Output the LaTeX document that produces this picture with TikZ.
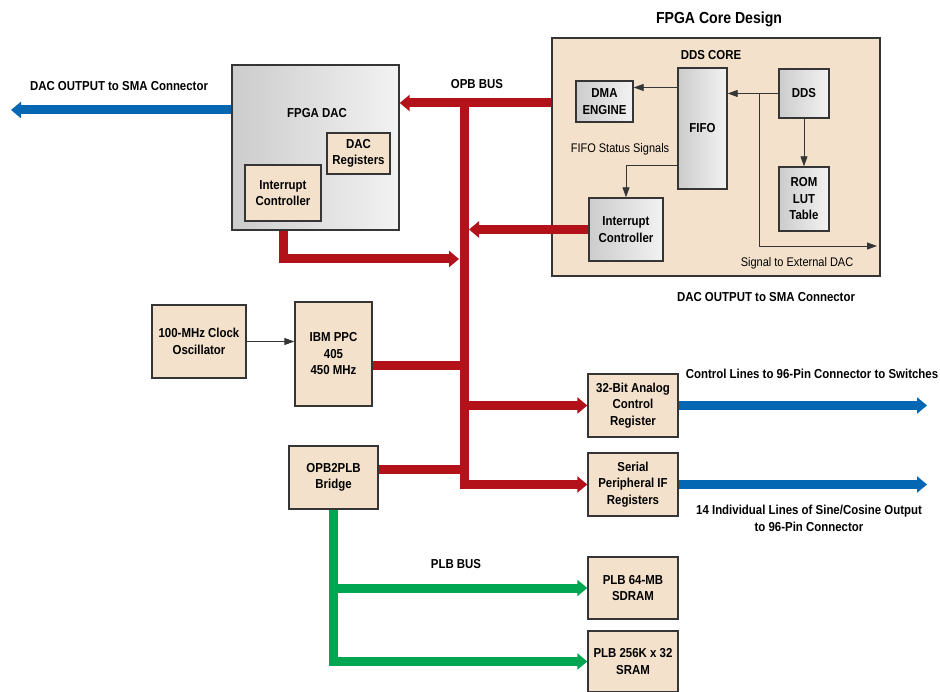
\documentclass[tikz,border=0pt]{standalone}
\usepackage{fontspec}
\setmainfont{Liberation Sans}[FakeStretch=0.88]
\usetikzlibrary{positioning,arrows.meta}
\definecolor{corefill}{HTML}{F3E1CB}
\definecolor{edge}{HTML}{353535}
\definecolor{busred}{HTML}{B3121B}
\definecolor{sigblue}{HTML}{0467B3}
\definecolor{plbgreen}{HTML}{00A651}

\begin{document}
\begin{tikzpicture}[x=1pt,y=-1pt,
 font=\fontsize{13}{16.5}\selectfont\bfseries,
 blk/.style={draw=edge,line width=1.4pt,fill=corefill,align=center,inner sep=0pt},
 chip/.style={draw=edge,line width=1.4pt,left color=black!20,right color=black!5,align=center,inner sep=0pt},
 note/.style={font=\fontsize{12.5}{15}\selectfont},
 bus/.style={line width=9pt,draw=busred},
 busarr/.style={bus,-{Triangle[width=16pt,length=10pt]}},
 sig/.style={line width=9pt,draw=sigblue,-{Triangle[width=16pt,length=10pt]}},
 plb/.style={line width=9pt,draw=plbgreen,-{Triangle[width=16pt,length=10pt]}},
 arr/.style={-{Triangle[length=10pt,width=7pt]},line width=0.9pt,draw=edge}]
\useasboundingbox (0,0) rectangle (940,692);
% FPGA core
\node[blk,minimum width=328pt,minimum height=238pt] (core) at (716,157) {};
\node[font=\fontsize{16}{19}\selectfont\bfseries] (coretitle) at (719,19) {FPGA Core Design};
\node (ddslbl) at (711,55) {DDS CORE};
\node[chip,minimum width=57pt,minimum height=41pt] (dma) at (604.5,101.5) {DMA\\ENGINE};
\node[chip,minimum width=49pt,minimum height=121pt] (fifo) at (702.5,128.5) {FIFO};
\node[chip,minimum width=50pt,minimum height=49pt] (dds) at (804,93.5) {DDS};
\node[chip,minimum width=50pt,minimum height=64pt] (rom) at (804,199) {ROM\\LUT\\Table};
\node[chip,minimum width=74pt,minimum height=63pt] (coreint) at (626,229.5) {Interrupt\\Controller};
\node[note] (fifonote) at (620,149) {FIFO Status Signals};
\node[note] (extnote) at (797,263) {Signal to External DAC};
\node (coreout) at (766,297) {DAC OUTPUT to SMA Connector};
% FPGA DAC
\node[chip,minimum width=167pt,minimum height=165pt] (fpgadac) at (315.5,147.5) {};
\node (dactxt) at (317,113) {FPGA DAC};
\node[blk,minimum width=63pt,minimum height=41pt] (dacreg) at (358.5,153.5) {DAC\\Registers};
\node[blk,minimum width=76pt,minimum height=56pt] (dacint) at (283,193) {Interrupt\\Controller};
\node (dacoutlbl) at (119,86) {DAC OUTPUT to SMA Connector};
% processor side
\node[blk,minimum width=94pt,minimum height=73pt] (clock) at (199,341.5) {100-MHz Clock\\Oscillator};
\node[blk,minimum width=77pt,minimum height=104pt] (ppc) at (333.5,354) {IBM PPC\\405\\450 MHz};
\node[blk,minimum width=89pt,minimum height=63pt] (bridge) at (333.5,477.5) {OPB2PLB\\Bridge};
\node[blk,minimum width=90pt,minimum height=63pt] (acr) at (633,405.5) {32-Bit Analog\\Control\\Register};
\node[blk,minimum width=90pt,minimum height=63pt] (spi) at (633,484.5) {Serial\\Peripheral IF\\Registers};
\node[blk,minimum width=90pt,minimum height=62pt] (sdram) at (633,588) {PLB 64-MB\\SDRAM};
\node[blk,minimum width=90pt,minimum height=61pt] (sram) at (633,661.5) {PLB 256K x 32\\SRAM};
\node (opblbl) at (477,84) {OPB BUS};
\node (plblbl) at (456,564) {PLB BUS};
\node (ctrllbl) at (812,374) {Control Lines to 96-Pin Connector to Switches};
\node[align=center] (sinelbl) at (809,518.5) {14 Individual Lines of Sine/Cosine Output\\to 96-Pin Connector};
% coordinates
\coordinate (opbtop) at (464,103);
\coordinate (dacin) at (459,259);
\coordinate (corein) at (469,229.5);
\coordinate (dacout) at (11,110);
\coordinate (ctrlend) at (927,405.5);
\coordinate (sineend) at (927,484.5);
\coordinate (tap) at (759,93.5);
\coordinate (extdac) at (877,246);
\coordinate (dmain) at ([yshift=14pt]dma.east);
\coordinate (fifost) at ([yshift=-36.5pt]fifo.west);
\coordinate (ppcout) at ([yshift=-12pt]ppc.east);
\coordinate (brout) at ([yshift=8.5pt]bridge.east);
% OPB bus
\draw[busarr] (core.west |- opbtop) -- (fpgadac.east |- opbtop);
\draw[busarr] (opbtop) -- (opbtop |- spi.west) -- (spi.west);
\draw[busarr] (opbtop |- acr.west) -- (acr.west);
\draw[busarr] (dacint |- fpgadac.south) |- (dacin);
\draw[busarr] (coreint.west) -- (corein);
\draw[bus] (ppcout) -- (opbtop |- ppcout);
\draw[bus] (brout) -- (opbtop |- brout);
% PLB bus
\draw[plb] (bridge.south) |- (sram.west);
\draw[plb] (bridge.south |- sdram.west) -- (sdram.west);
% outputs
\draw[sig] (fpgadac.west |- dacout) -- (dacout);
\draw[sig] (acr.east) -- (ctrlend);
\draw[sig] (spi.east) -- (sineend);
% DDS core signals
\draw[arr] (dmain -| fifo.west) -- (dmain);
\draw[arr] (dds.west) -- (dds.west -| fifo.east);
\draw[arr] (tap) |- (extdac);
\draw[arr] (dds.south) -- (rom.north);
\draw[arr] (fifost) -| (coreint.north);
\draw[arr] (clock.east) -- (clock.east -| ppc.west);
\end{tikzpicture}
\end{document}
